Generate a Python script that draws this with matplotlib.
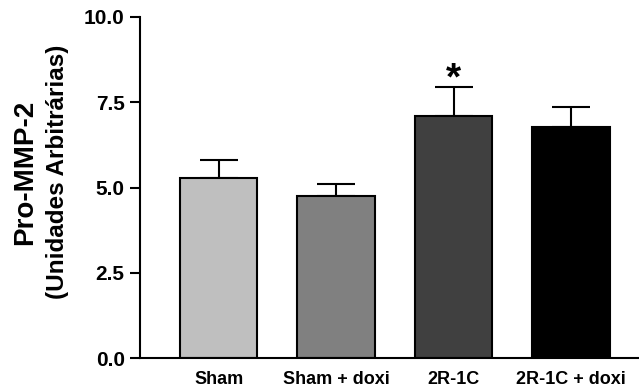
import matplotlib
matplotlib.use("Agg")
import matplotlib.pyplot as plt

categories = ["Sham", "Sham + doxi", "2R-1C", "2R-1C + doxi"]
means = [5.29, 4.75, 7.10, 6.77]
sems = [0.53, 0.35, 0.86, 0.59]
colors = ["#bfbfbf", "#808080", "#404040", "#000000"]
yticks = [0.0, 2.5, 5.0, 7.5, 10.0]

plt.rcParams['font.family'] = ['Liberation Sans', 'DejaVu Sans']
plt.rcParams['font.weight'] = 'bold'

fig = plt.figure(figsize=(6.39, 3.91), dpi=100)
W, H = 639, 391
ax = fig.add_axes([140 / W, 1 - 358 / H, 498 / W, 341 / H])

x = range(len(categories))
ax.bar(x, means, width=0.66, color=colors, edgecolor="black", linewidth=1.5, zorder=2)
ax.errorbar(x, means, yerr=[[0] * 4, sems], fmt="none", ecolor="black",
            elinewidth=1.5, capsize=14, capthick=1.5, zorder=1)

ax.text(2, means[2] + sems[2] - 0.08, "*", ha="center", va="baseline",
        fontsize=28, fontweight="bold")

ax.set_xlim(-0.67, 3.57)
ax.set_ylim(0, 10)
ax.set_yticks(yticks)
ax.set_yticklabels([f"{v:.1f}" for v in yticks], fontsize=15, fontweight="bold")
ax.set_xticks(list(x))
ax.set_xticklabels(categories, fontsize=13, fontweight="bold")
ax.tick_params(axis="x", length=0, pad=9)
ax.tick_params(axis="y", length=7, width=1.5, direction="out", pad=4)
for s in ["top", "right"]:
    ax.spines[s].set_visible(False)
for s in ["left", "bottom"]:
    ax.spines[s].set_linewidth(1.5)

fig.text(25 / W, 1 - 172 / H, "Pro-MMP-2", rotation=90, ha="center", va="center",
         fontsize=20, fontweight="bold")
fig.text(57.5 / W, 1 - 172 / H, "(Unidades Arbitrárias)", rotation=90, ha="center",
         va="center", fontsize=17.5, fontweight="bold")

fig.savefig("out.png", dpi=100)
